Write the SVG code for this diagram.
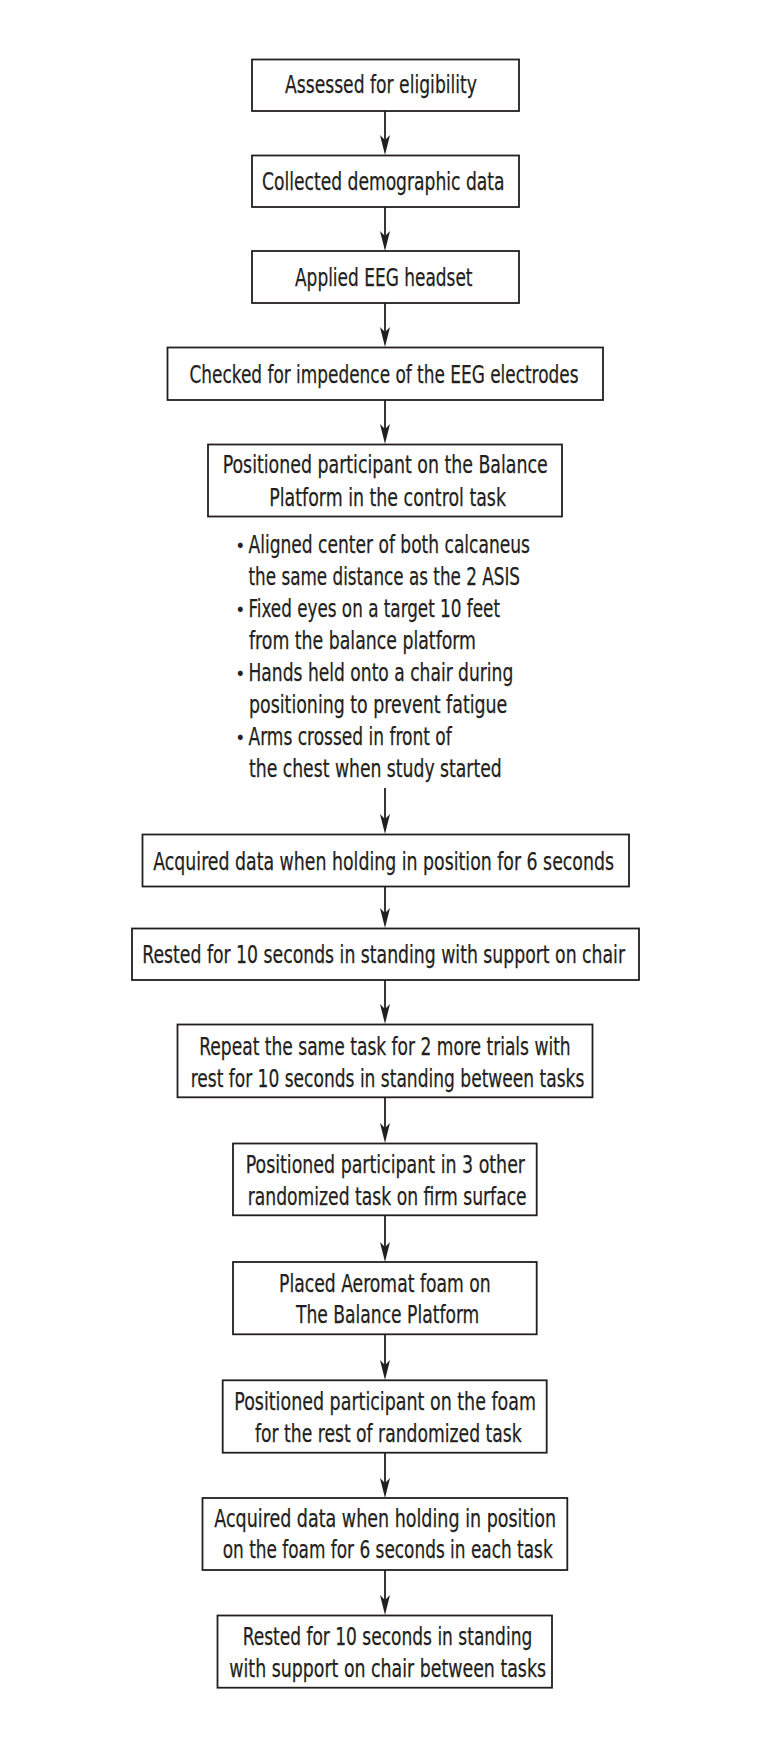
<svg xmlns="http://www.w3.org/2000/svg" width="771" height="1748" viewBox="0 0 771 1748">
<style>
.box{fill:#fff;stroke:#231f20;stroke-width:1.8}
.t{font-family:"Liberation Sans Narrow","DejaVu Sans Condensed","Liberation Sans",sans-serif;font-size:24px;fill:#231f20;stroke:#231f20;stroke-width:0.25}
.b{font-size:18px}
.c{stroke:#231f20;stroke-width:1.8;fill:none}
</style>
<defs>
<marker id="ah" viewBox="0 0 20 10" refX="12" refY="5" markerWidth="20" markerHeight="10" markerUnits="userSpaceOnUse" orient="auto">
<path d="M0,0 L20,5 L0,10 L5,5 Z" fill="#231f20"/>
</marker>
</defs>
<rect width="771" height="1748" fill="#fff"/>
<g id="connectors">
<line class="c" x1="385" y1="111" x2="385" y2="147" marker-end="url(#ah)"/>
<line class="c" x1="385" y1="207" x2="385" y2="243" marker-end="url(#ah)"/>
<line class="c" x1="385" y1="303" x2="385" y2="339" marker-end="url(#ah)"/>
<line class="c" x1="385" y1="400" x2="385" y2="436" marker-end="url(#ah)"/>
<line class="c" x1="385" y1="788" x2="385" y2="826" marker-end="url(#ah)"/>
<line class="c" x1="385" y1="887" x2="385" y2="920" marker-end="url(#ah)"/>
<line class="c" x1="385" y1="980" x2="385" y2="1016" marker-end="url(#ah)"/>
<line class="c" x1="385" y1="1097" x2="385" y2="1135" marker-end="url(#ah)"/>
<line class="c" x1="385" y1="1215" x2="385" y2="1254" marker-end="url(#ah)"/>
<line class="c" x1="385" y1="1334" x2="385" y2="1372" marker-end="url(#ah)"/>
<line class="c" x1="385" y1="1453" x2="385" y2="1490" marker-end="url(#ah)"/>
<line class="c" x1="385" y1="1570" x2="385" y2="1607" marker-end="url(#ah)"/>
</g>
<g id="n1">
<rect class="box" x="252" y="59.5" width="267" height="51.5"/>
<text class="t" x="285" y="93" textLength="192" lengthAdjust="spacingAndGlyphs">Assessed for eligibility</text>
</g>
<g id="n2">
<rect class="box" x="252" y="155.5" width="267" height="51.5"/>
<text class="t" x="262" y="190" textLength="242.5" lengthAdjust="spacingAndGlyphs">Collected demographic data</text>
</g>
<g id="n3">
<rect class="box" x="252" y="251" width="267" height="52"/>
<text class="t" x="295" y="285.5" textLength="177.5" lengthAdjust="spacingAndGlyphs">Applied EEG headset</text>
</g>
<g id="n4">
<rect class="box" x="167.5" y="347.5" width="435.5" height="52.5"/>
<text class="t" x="189.5" y="383" textLength="389" lengthAdjust="spacingAndGlyphs">Checked for impedence of the EEG electrodes</text>
</g>
<g id="n5">
<rect class="box" x="208" y="444.5" width="354" height="72"/>
<text class="t" x="222.7" y="473" textLength="325" lengthAdjust="spacingAndGlyphs">Positioned participant on the Balance</text>
<text class="t" x="269.3" y="505.5" textLength="236.7" lengthAdjust="spacingAndGlyphs">Platform in the control task</text>
</g>
<g id="bullets">
<text class="t b" x="235.5" y="552">•</text>
<text class="t" x="248.5" y="553" textLength="281.5" lengthAdjust="spacingAndGlyphs">Aligned center of both calcaneus</text>
<text class="t" x="248.5" y="585" textLength="271.5" lengthAdjust="spacingAndGlyphs">the same distance as the 2 ASIS</text>
<text class="t b" x="235.5" y="615.5">•</text>
<text class="t" x="248.5" y="616.5" textLength="251.5" lengthAdjust="spacingAndGlyphs">Fixed eyes on a target 10 feet</text>
<text class="t" x="249" y="648.5" textLength="227" lengthAdjust="spacingAndGlyphs">from the balance platform</text>
<text class="t b" x="235.5" y="679.5">•</text>
<text class="t" x="248.5" y="680.5" textLength="264.8" lengthAdjust="spacingAndGlyphs">Hands held onto a chair during</text>
<text class="t" x="249" y="712.5" textLength="258.3" lengthAdjust="spacingAndGlyphs">positioning to prevent fatigue</text>
<text class="t b" x="235.5" y="743.5">•</text>
<text class="t" x="248.5" y="744.5" textLength="203.2" lengthAdjust="spacingAndGlyphs">Arms crossed in front of</text>
<text class="t" x="249" y="776.5" textLength="252.7" lengthAdjust="spacingAndGlyphs">the chest when study started</text>
</g>
<g id="n6">
<rect class="box" x="142.5" y="834.5" width="486.5" height="52"/>
<text class="t" x="153.3" y="870" textLength="460.7" lengthAdjust="spacingAndGlyphs">Acquired data when holding in position for 6 seconds</text>
</g>
<g id="n7">
<rect class="box" x="132" y="928.5" width="507" height="51.5"/>
<text class="t" x="142.3" y="963.3" textLength="482.7" lengthAdjust="spacingAndGlyphs">Rested for 10 seconds in standing with support on chair</text>
</g>
<g id="n8">
<rect class="box" x="177.5" y="1024.5" width="415" height="72.8"/>
<text class="t" x="199.3" y="1055" textLength="371.4" lengthAdjust="spacingAndGlyphs">Repeat the same task for 2 more trials with</text>
<text class="t" x="190.7" y="1086.7" textLength="393.6" lengthAdjust="spacingAndGlyphs">rest for 10 seconds in standing between tasks</text>
</g>
<g id="n9">
<rect class="box" x="233" y="1143.5" width="303.7" height="71.8"/>
<text class="t" x="245.7" y="1173.3" textLength="279.3" lengthAdjust="spacingAndGlyphs">Positioned participant in 3 other</text>
<text class="t" x="247.7" y="1205" textLength="279" lengthAdjust="spacingAndGlyphs">randomized task on firm surface</text>
</g>
<g id="n10">
<rect class="box" x="233" y="1262" width="303.7" height="72.3"/>
<text class="t" x="279" y="1291.7" textLength="211.7" lengthAdjust="spacingAndGlyphs">Placed Aeromat foam on</text>
<text class="t" x="296" y="1323.3" textLength="183.3" lengthAdjust="spacingAndGlyphs">The Balance Platform</text>
</g>
<g id="n11">
<rect class="box" x="222.7" y="1380.3" width="324" height="72.4"/>
<text class="t" x="234.3" y="1410" textLength="301.7" lengthAdjust="spacingAndGlyphs">Positioned participant on the foam</text>
<text class="t" x="255" y="1441.7" textLength="266.7" lengthAdjust="spacingAndGlyphs">for the rest of randomized task</text>
</g>
<g id="n12">
<rect class="box" x="202.5" y="1498" width="364.8" height="72"/>
<text class="t" x="214.3" y="1526.7" textLength="341.7" lengthAdjust="spacingAndGlyphs">Acquired data when holding in position</text>
<text class="t" x="222.7" y="1558.3" textLength="330" lengthAdjust="spacingAndGlyphs">on the foam for 6 seconds in each task</text>
</g>
<g id="n13">
<rect class="box" x="217.5" y="1615.5" width="334.5" height="72.2"/>
<text class="t" x="242.7" y="1645" textLength="289.6" lengthAdjust="spacingAndGlyphs">Rested for 10 seconds in standing</text>
<text class="t" x="229.3" y="1676.7" textLength="316.7" lengthAdjust="spacingAndGlyphs">with support on chair between tasks</text>
</g>
</svg>
